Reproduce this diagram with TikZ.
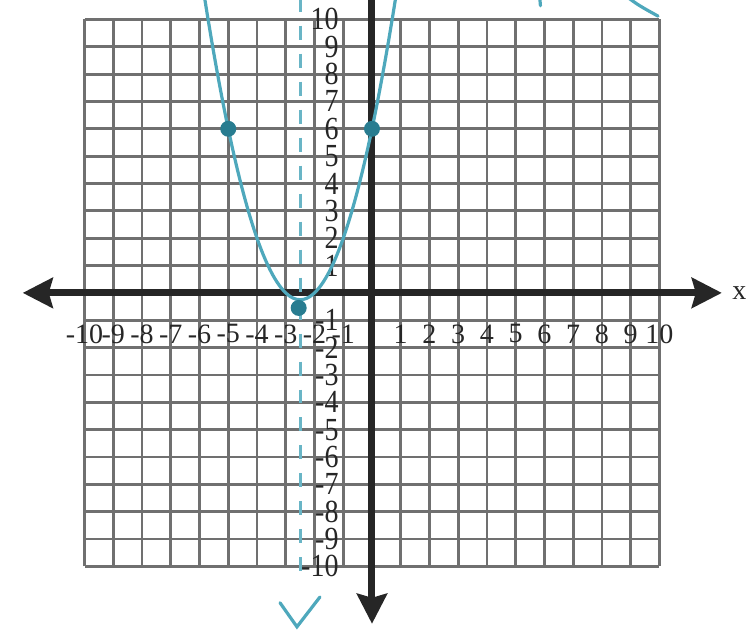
\documentclass[tikz,border=0pt]{standalone}
\usepackage{fontspec}
\setmainfont{Liberation Serif}
\usepackage{xcolor}
\usepackage{tikz}
\usetikzlibrary{arrows.meta, positioning, calc}

\definecolor{gridgray}{RGB}{112,112,112}
\definecolor{axisdark}{RGB}{38,38,38}
\definecolor{pencil}{RGB}{78,168,188}
\definecolor{pencildark}{RGB}{40,124,144}

\begin{document}
\begin{tikzpicture}[
    x=14.375pt, y=13.675pt,
    gridline/.style={
        draw=gridgray,
        line width=1.4pt
    },
    axisline/.style={
        draw=axisdark,
        line width=3.5pt,
        arrows={-Stealth[length=15pt, width=15pt, inset=2pt]}
    },
    xlab/.style={
        inner sep=0pt,
        font=\fontsize{14pt}{14pt}\selectfont,
        text=axisdark
    },
    ylab/.style={
        inner sep=0pt,
        anchor=east,
        font=\fontsize{14pt}{14pt}\selectfont,
        text=axisdark
    },
    curve/.style={
        draw=pencil,
        line width=1.6pt,
        line cap=round
    },
    symline/.style={
        draw=pencil!85,
        line width=1.6pt,
        dash pattern=on 7pt off 7pt
    },
    ptdot/.style={
        circle,
        fill=pencildark,
        inner sep=0pt,
        minimum size=8pt
    }
]

    % Frame of the picture
    \useasboundingbox (-12.94,-12.39) rectangle (13.01,10.71);
    \clip (-12.94,-12.39) rectangle (13.01,10.71);

    % Grid paper
    \foreach \k in {-10,...,10} {
        \draw[gridline] (\k,-10) -- (\k,10);
        \draw[gridline] (-10,\k) -- (10,\k);
    }

    % Axes
    \coordinate (xleft) at (-12.15,0);
    \coordinate (xright) at (12.17,0);
    \coordinate (ytop) at (0,11.5);
    \coordinate (ybottom) at (0,-12.1);
    \draw[axisline, arrows={Stealth[length=15pt, width=15pt, inset=2pt]-Stealth[length=15pt, width=15pt, inset=2pt]}] (xleft) -- (xright);
    \draw[axisline] (ytop) -- (ybottom);
    \node[xlab, anchor=west, right=5pt of xright] (xname) {x};

    % Tick labels
    \foreach \i in {1,...,10} {
        \node[xlab] (xp\i) at (\i,-1.5) {\i};
        \node[xlab] (xm\i) at (-\i,-1.5) {-\i};
        \node[ylab] (yp\i) at (-1.15,\i) {\scalebox{1}[1.15]{\i}};
        \node[ylab] (ym\i) at (-1.15,-\i) {\scalebox{1}[1.15]{-\i}};
    }

    % Hand drawn parabola, its axis and points
    \draw[symline] (-2.5,10.8) -- (-2.5,-10.68);
    \draw[curve] plot[domain=-5.95:0.95, samples=90, smooth] (\x, {\x*\x+5*\x+6});
    \node[ptdot] (ptleft) at (-5,6) {};
    \node[ptdot] (ptright) at (0,6) {};
    \node[ptdot] (vertex) at (-2.55,-0.55) {};

    % Pencil marks
    \draw[curve] (-3.2,-11.33) -- (-2.61,-12.21) -- (-1.81,-11.12);
    \draw[curve] (8.9,10.8) .. controls (9.3,10.5) .. (9.95,10.12);
    \draw[curve] (5.84,10.75) -- (5.86,10.5);

\end{tikzpicture}
\end{document}
